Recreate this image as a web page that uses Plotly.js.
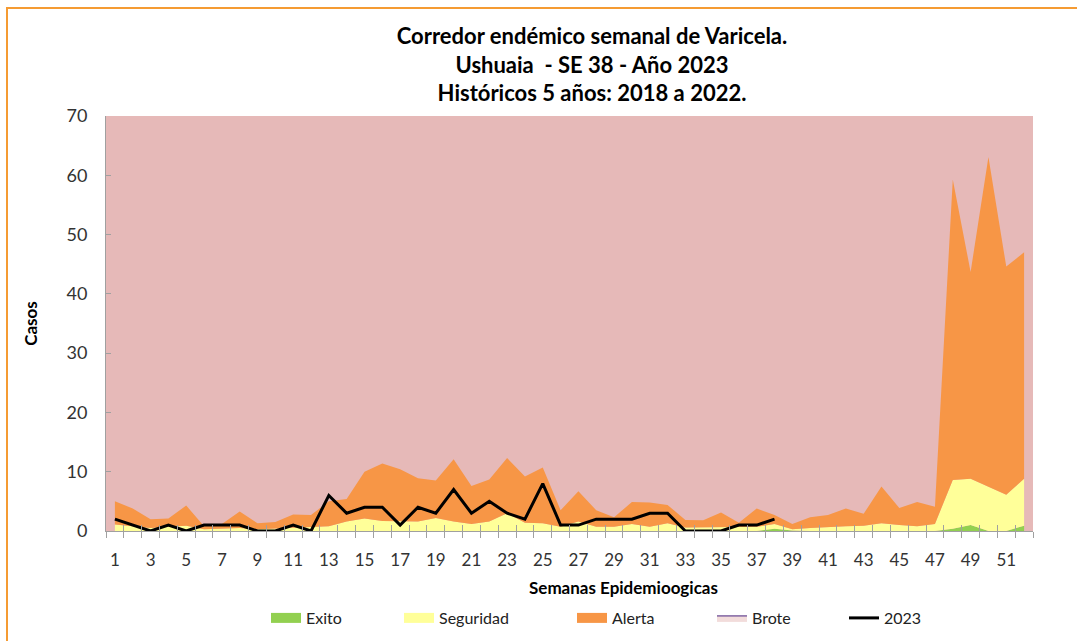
<!DOCTYPE html>
<html><head><meta charset="utf-8">
<script src="https://cdn.plot.ly/plotly-3.0.1.min.js"></script>
<style>
html,body{margin:0;padding:0;background:#fff;overflow:hidden;width:1077px;height:641px;}
#frame{position:absolute;left:6px;top:7px;width:1200px;height:700px;border-left:2px solid #F59B33;border-top:2px solid #F59B33;}
#chart{position:absolute;left:0;top:0;width:1077px;height:641px;}
</style></head><body>
<div id="frame"></div><div id="chart"></div>
<script>
// Semanas epidemiológicas
const weeks = [1,2,3,4,5,6,7,8,9,10,11,12,13,14,15,16,17,18,19,20,21,22,23,24,25,26,
  27,28,29,30,31,32,33,34,35,36,37,38,39,40,41,42,43,44,45,46,47,48,49,50,51,52];
// Límite superior de la zona de éxito (cuartil 1)
const exito = [0,0,0,0,0,0,0,0,0,0,0,0,0,0,0,0,0,0,0,0,0,0,0,0,0,0,
  0,0,0,0,0,0,0,0,0,0,0,0.4,0.1,0,0,0,0,0,0,0,0,0.4,1.0,0,0,0.9];
// Límite superior de la zona de seguridad (mediana)
const seguridad = [1.1,0.8,0.5,0.7,0.9,0.3,0.4,0.5,0.3,0.4,0.6,0.7,0.8,1.6,2.1,1.7,1.7,1.6,2.2,1.6,1.2,1.6,3.0,1.4,1.3,0.7,
  1.6,0.7,0.7,1.2,0.7,1.3,0.6,0.6,0.7,0.6,0.7,1.2,0.3,0.5,0.7,0.8,0.9,1.3,1.0,0.8,1.2,8.6,8.8,7.4,6.1,8.8];
// Límite superior de la zona de alerta (cuartil 3)
const alerta = [5.0,3.8,2.0,2.1,4.3,0.8,1.2,3.3,1.3,1.5,2.8,2.7,5.0,5.4,10.0,11.4,10.4,8.9,8.5,12.1,7.6,8.7,12.3,9.2,10.7,3.5,
  6.7,3.5,2.3,4.9,4.8,4.4,1.85,1.8,3.1,1.4,3.8,2.7,1.2,2.3,2.7,3.8,2.9,7.5,3.9,4.9,4.1,59.3,43.7,63.1,44.6,47.0];
// Casos 2023 (hasta SE 38)
const weeks2023 = weeks.slice(0,38);
const casos2023 = [2,1,0,1,0,1,1,1,0,0,1,0,6,3,4,4,1,4,3,7,3,5,3,2,8,1,1,2,2,2,3,3,0,0,0,1,1,2];
const tickWeeks = [1,3,5,7,9,11,13,15,17,19,21,23,25,27,29,31,33,35,37,39,41,43,45,47,49,51];

const W=1077, H=641, M={l:106,r:44,t:116,b:110,autoexpand:false};
const pw=W-M.l-M.r, ph=H-M.t-M.b;
const px2x = p => (p-M.l)/pw;
const py2y = p => (H-M.b-p)/ph;
const bounds = [0.5].concat(weeks.map(w=>w+0.5));
const FONT = 'Lato, "DejaVu Sans", sans-serif';
const GRAY = '#A0A0A0';
const C = {exito:'#92D050', seg:'#FFFF99', alerta:'#F79646'};

const traces = [
  {x:weeks, y:exito, name:'Exito', type:'scatter', mode:'lines', fill:'tozeroy',
   fillcolor:C.exito, line:{width:0, color:C.exito}, showlegend:false, legendgroup:'e', hoverinfo:'skip'},
  {x:weeks, y:seguridad, name:'Seguridad', type:'scatter', mode:'lines', fill:'tonexty',
   fillcolor:C.seg, line:{width:0, color:C.seg}, showlegend:false, legendgroup:'s', hoverinfo:'skip'},
  {x:weeks, y:alerta, name:'Alerta', type:'scatter', mode:'lines', fill:'tonexty',
   fillcolor:C.alerta, line:{width:0, color:C.alerta}, showlegend:false, legendgroup:'a', hoverinfo:'skip'},
  // legend swatches
  {x:[null], y:[null], name:'Exito', type:'scatter', mode:'lines', line:{width:10, color:C.exito}, legendgroup:'e', legend:'legend'},
  {x:[null], y:[null], name:'Seguridad', type:'scatter', mode:'lines', line:{width:10, color:C.seg}, legendgroup:'s', legend:'legend2'},
  {x:[null], y:[null], name:'Alerta', type:'scatter', mode:'lines', line:{width:10, color:C.alerta}, legendgroup:'a', legend:'legend3'},
  {x:[null], y:[null], name:'Brote', type:'scatter', mode:'lines', fill:'toself',
   fillcolor:'#F2DCDB', line:{width:1.5, color:'#8064A2'}, legend:'legend4', hoverinfo:'skip'},
  {x:weeks2023, y:casos2023, name:'2023', type:'scatter', mode:'lines', xaxis:'x2',
   line:{width:3, color:'#000000'}, legend:'legend5'}
];

function leg(textStart){
  return {x:px2x(textStart-42), y:py2y(618), xanchor:'left', yanchor:'middle',
    orientation:'h', bgcolor:'rgba(0,0,0,0)', font:{family:FONT, size:16, color:'#222'}};
}

const layout = {
  width:W, height:H, margin:M,
  paper_bgcolor:'rgba(0,0,0,0)', plot_bgcolor:'#E6B9B8',
  font:{family:FONT, color:'#333'},
  title:{text:'Corredor endémico semanal de Varicela.<br>Ushuaia  - SE 38 - Año 2023<br>Históricos 5 años: 2018 a 2022.',
    font:{family:FONT, size:22, weight:700, color:'#000'},
    xref:'container', x:592/W, xanchor:'center', yref:'container', y:1-44/H, yanchor:'top'},
  xaxis:{range:[0.5,52.5], tickmode:'array', tickvals:tickWeeks, ticktext:tickWeeks.map(String),
    ticks:'', showline:true, linecolor:GRAY, linewidth:1, showgrid:false, zeroline:false,
    tickfont:{family:FONT, size:17, color:'#333'}, ticklabelstandoff:14,
    minor:{tickmode:'array', tickvals:bounds, ticks:'outside', ticklen:6, tickcolor:GRAY, tickwidth:1, showgrid:false}},
  xaxis2:{range:[0.5,52.5], overlaying:'x', anchor:'y', side:'bottom', tickmode:'array', tickvals:bounds,
    ticks:'inside', ticklen:6, tickcolor:GRAY, tickwidth:1, showticklabels:false, showline:false,
    showgrid:false, zeroline:false},
  yaxis:{range:[0,70], dtick:10, tick0:0, ticks:'inside', ticklen:5, tickcolor:GRAY, showline:true,
    linecolor:GRAY, linewidth:1, showgrid:false, zeroline:false, ticklabelstandoff:14,
    tickfont:{family:FONT, size:18, color:'#333'},
    title:{text:'Casos', standoff:24, font:{family:FONT, size:17, weight:700, color:'#000'}}},
  annotations:[{text:'Semanas Epidemioogicas', xref:'paper', yref:'paper', x:px2x(623), y:py2y(587),
    xanchor:'center', yanchor:'middle', showarrow:false, font:{family:FONT, size:17, weight:700, color:'#000'}}],
  showlegend:true,
  legend:leg(308), legend2:leg(441), legend3:leg(614), legend4:leg(754), legend5:leg(886)
};

Plotly.newPlot('chart', traces, layout, {displayModeBar:false, staticPlot:true});
</script>
</body></html>
